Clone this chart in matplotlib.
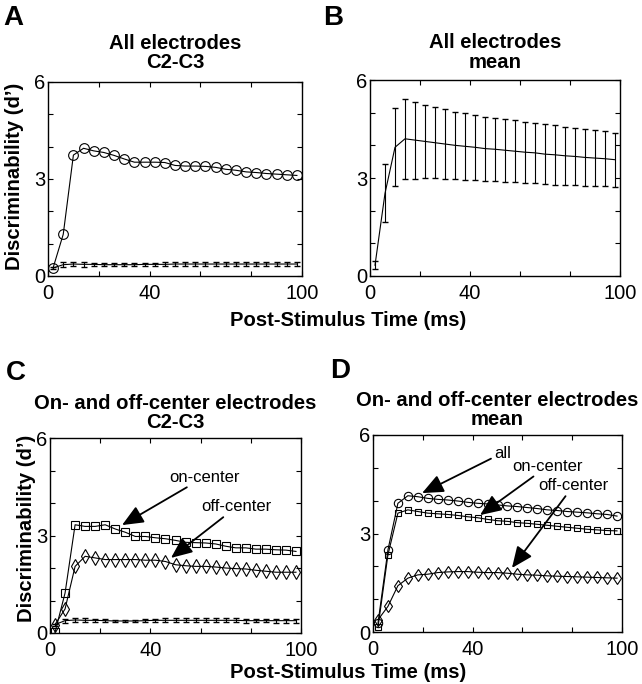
import numpy as np
import matplotlib
matplotlib.use("Agg")
import matplotlib.pyplot as plt

plt.rcParams['font.family'] = ['Liberation Sans', 'DejaVu Sans']

# post-stimulus time of each bin (ms)
t = [2, 6, 10, 14, 18, 22, 26, 30, 34, 38, 42, 46, 50,
     54, 58, 62, 66, 70, 74, 78, 82, 86, 90, 94, 98]

# A: all electrodes, C2-C3
a_c2c3 = [0.25, 1.29, 3.74, 3.95, 3.87, 3.82, 3.73, 3.62, 3.52, 3.52, 3.52, 3.51, 3.42,
          3.40, 3.40, 3.39, 3.36, 3.30, 3.27, 3.22, 3.20, 3.17, 3.15, 3.13, 3.11]
a_base = [0.25, 0.35, 0.37, 0.36, 0.36, 0.35, 0.35, 0.35, 0.35, 0.36, 0.36, 0.36, 0.37,
          0.37, 0.37, 0.37, 0.37, 0.37, 0.37, 0.37, 0.37, 0.37, 0.37, 0.37, 0.37]
a_base_err = [0.03, 0.07, 0.07, 0.07, 0.05, 0.05, 0.04, 0.04, 0.04, 0.05, 0.05, 0.06, 0.07,
              0.07, 0.07, 0.07, 0.07, 0.07, 0.07, 0.06, 0.05, 0.07, 0.07, 0.07, 0.07]

# B: all electrodes, mean +- sd
b_mean = [0.33, 2.53, 3.94, 4.20, 4.16, 4.12, 4.08, 4.04, 4.00, 3.97, 3.94, 3.90, 3.88,
          3.85, 3.82, 3.79, 3.77, 3.73, 3.71, 3.68, 3.66, 3.63, 3.61, 3.59, 3.56]
b_err = [0.13, 0.89, 1.19, 1.22, 1.18, 1.12, 1.08, 1.06, 1.03, 1.02, 0.99, 0.98, 0.97,
         0.96, 0.95, 0.93, 0.92, 0.91, 0.91, 0.89, 0.88, 0.87, 0.86, 0.85, 0.83]

# C: on- and off-center electrodes, C2-C3
c_on = [0.02, 1.23, 3.33, 3.28, 3.28, 3.33, 3.20, 3.10, 2.97, 2.97, 2.93, 2.90, 2.85,
        2.79, 2.78, 2.77, 2.74, 2.67, 2.62, 2.62, 2.58, 2.58, 2.56, 2.55, 2.51]
c_off = [0.26, 0.74, 2.05, 2.36, 2.31, 2.26, 2.26, 2.26, 2.26, 2.24, 2.24, 2.20, 2.10,
         2.07, 2.05, 2.05, 2.03, 2.00, 1.98, 1.97, 1.93, 1.90, 1.87, 1.87, 1.87]
c_base = [0.26, 0.38, 0.40, 0.39, 0.39, 0.38, 0.37, 0.37, 0.37, 0.38, 0.39, 0.39, 0.39,
          0.39, 0.39, 0.39, 0.39, 0.39, 0.39, 0.38, 0.38, 0.38, 0.38, 0.38, 0.38]
c_base_err = [0.03, 0.06, 0.06, 0.06, 0.05, 0.04, 0.04, 0.04, 0.04, 0.05, 0.05, 0.06, 0.06,
              0.06, 0.06, 0.06, 0.06, 0.06, 0.06, 0.06, 0.05, 0.05, 0.06, 0.06, 0.06]

# D: on- and off-center electrodes, mean
d_all = [0.27, 2.50, 3.92, 4.15, 4.12, 4.07, 4.04, 4.02, 3.99, 3.95, 3.92, 3.90, 3.87,
         3.84, 3.82, 3.79, 3.76, 3.72, 3.70, 3.67, 3.65, 3.63, 3.60, 3.58, 3.53]
d_on = [0.14, 2.35, 3.62, 3.72, 3.67, 3.62, 3.60, 3.58, 3.55, 3.51, 3.48, 3.43, 3.39,
        3.37, 3.33, 3.31, 3.28, 3.25, 3.22, 3.19, 3.16, 3.13, 3.11, 3.09, 3.08]
d_off = [0.37, 0.78, 1.41, 1.64, 1.74, 1.76, 1.81, 1.83, 1.84, 1.84, 1.82, 1.81, 1.81,
         1.79, 1.76, 1.74, 1.73, 1.71, 1.70, 1.69, 1.68, 1.67, 1.66, 1.65, 1.64]

xticks = [0, 20, 40, 60, 80, 100]
xticklabels = ['0', '', '40', '', '', '100']
yticks = [0, 1, 2, 3, 4, 5, 6]
yticklabels = ['0', '', '', '3', '', '', '6']

W, H = 642, 684
fig = plt.figure(figsize=(W / 100, H / 100), dpi=100)


def px_axes(left, top, right, bottom):
    return fig.add_axes([left / W, 1 - bottom / H, (right - left) / W, (bottom - top) / H])


def style(ax):
    ax.set_xlim(0, 100)
    ax.set_ylim(0, 6)
    ax.set_xticks(xticks)
    ax.set_xticklabels(xticklabels)
    ax.set_yticks(yticks)
    ax.set_yticklabels(yticklabels)
    ax.tick_params(direction='in', top=True, right=True, length=3.5, width=0.8,
                   labelsize=14.5)
    ax.tick_params(axis='x', pad=6)
    ax.tick_params(axis='y', pad=2)
    for s in ax.spines.values():
        s.set_linewidth(1.0)


lw = 0.8
fs_note = 12
arrow = dict(arrowstyle='-|>,head_length=0.65,head_width=0.28', mutation_scale=20,
             color='k', lw=1.3, shrinkA=0, shrinkB=0)

# A
axA = px_axes(48, 82, 302, 276)
axA.plot(t, a_c2c3, 'k-', marker='o', ms=7, mfc='none', mew=lw, lw=lw)
axA.errorbar(t, a_base, yerr=a_base_err, color='k', lw=lw, capsize=2, elinewidth=lw)
style(axA)
axA.set_title('All electrodes\nC2-C3', fontsize=14.6, fontweight='bold',
              linespacing=1.0, pad=10)

# B
axB = px_axes(370, 80, 620, 276)
axB.errorbar(t, b_mean, yerr=b_err, color='k', lw=lw, capsize=2.5, elinewidth=lw)
style(axB)
axB.set_title('All electrodes\nmean', fontsize=14.6, fontweight='bold',
              linespacing=1.0, pad=9)

# C
axC = px_axes(50, 438, 301, 633)
axC.plot(t, c_on, 'k-', marker='s', ms=6, mfc='none', mew=lw, lw=lw)
axC.plot(t, c_off, 'k-', marker='d', ms=7, mfc='none', mew=lw, lw=lw)
axC.errorbar(t, c_base, yerr=c_base_err, color='k', lw=lw, capsize=2, elinewidth=lw)
style(axC)
axC.set_title('On- and off-center electrodes\nC2-C3', fontsize=14.6, fontweight='bold',
              linespacing=1.0, pad=7)
axC.annotate('on-center', xy=(28.7, 3.32), xytext=(47.5, 4.8), fontsize=fs_note,
             ha='left', va='center', arrowprops=arrow)
axC.annotate('off-center', xy=(48.2, 2.31), xytext=(60.3, 3.88), fontsize=fs_note,
             ha='left', va='center', arrowprops=arrow)

# D
axD = px_axes(373, 435, 622, 632)
axD.plot(t, d_all, 'k-', marker='o', ms=6, mfc='none', mew=lw, lw=lw)
axD.plot(t, d_on, 'k-', marker='s', ms=5, mfc='none', mew=lw, lw=lw)
axD.plot(t, d_off, 'k-', marker='d', ms=6, mfc='none', mew=lw, lw=lw)
style(axD)
axD.set_title('On- and off-center electrodes\nmean', fontsize=14.6, fontweight='bold',
              linespacing=1.0, pad=7)
axD.annotate('all', xy=(19.7, 4.23), xytext=(48.5, 5.45), fontsize=fs_note,
             ha='left', va='center', arrowprops=arrow)
axD.annotate('on-center', xy=(43.0, 3.56), xytext=(56.0, 5.05), fontsize=fs_note,
             ha='left', va='center', arrowprops=arrow)
axD.annotate('off-center', xy=(55.8, 1.95), xytext=(66.3, 4.45), fontsize=fs_note,
             ha='left', va='center', arrowprops=arrow)

# panel letters
for letter, x, y in [('A', 3, 25), ('B', 323, 25), ('C', 6, 380), ('D', 330, 378)]:
    fig.text(x / W, 1 - y / H, letter, fontsize=20, fontweight='bold', va='baseline')

# shared axis labels
for x, y in [(15, 176), (27, 528)]:
    fig.text(x / W, 1 - y / H, 'Discriminability (d\u2019)', rotation=90, fontsize=14.6,
             fontweight='bold', ha='center', va='center')
for y in [326, 678]:
    fig.text(348 / W, 1 - y / H, 'Post-Stimulus Time (ms)', fontsize=14.6,
             fontweight='bold', ha='center', va='baseline')

fig.savefig('out.png', dpi=100)
